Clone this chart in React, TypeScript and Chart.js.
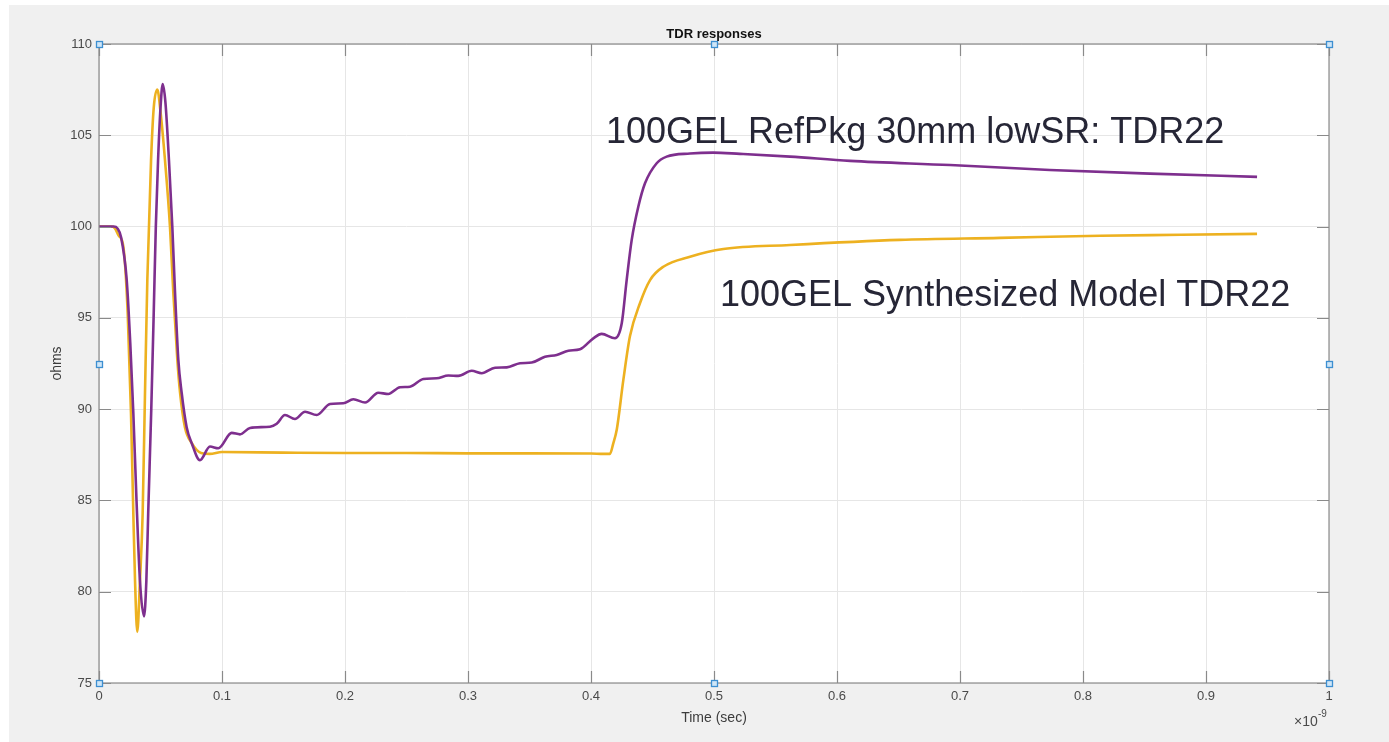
import React, { useEffect, useRef } from "react";
import { Chart, registerables } from "chart.js";

Chart.register(...registerables);

// time in units of 1e-9 s, impedance in ohms
const synthTime = [0, 0.010, 0.013, 0.016, 0.0198, 0.0233, 0.026, 0.0279, 0.0293, 0.0311, 0.0333, 0.0355, 0.0374, 0.0393, 0.0423, 0.0445, 0.0474, 0.0500, 0.0537, 0.0577, 0.0604, 0.0637, 0.0659, 0.0699, 0.0753, 0.083, 0.09, 0.1, 0.15, 0.2, 0.25, 0.3, 0.35, 0.40, 0.410, 0.4154, 0.418, 0.421, 0.4263, 0.4317, 0.4398, 0.448, 0.4588, 0.4805, 0.5076, 0.5618, 0.651, 0.7325, 0.814, 0.88, 0.9415];
const synthOhms = [100, 100, 99.9, 99.5, 98.9, 95.3, 89.8, 84.3, 80.6, 77.8, 80.6, 84.3, 90.9, 97.1, 103.6, 106.5, 107.5, 106.3, 103.6, 100, 96.4, 92.7, 90.9, 89.0, 88.15, 87.6, 87.55, 87.65, 87.62, 87.6, 87.6, 87.58, 87.58, 87.57, 87.55, 87.55, 88.1, 88.9, 91.6, 94.0, 95.8, 97.07, 97.8, 98.35, 98.77, 98.99, 99.27, 99.38, 99.5, 99.55, 99.6];

const refTime = [0, 0.012, 0.015, 0.018, 0.0225, 0.0255, 0.0279, 0.0305, 0.0333, 0.0366, 0.0385, 0.040, 0.0425, 0.0445, 0.0462, 0.048, 0.050, 0.0518, 0.054, 0.0569, 0.0596, 0.0618, 0.0645, 0.0672, 0.0713, 0.0753, 0.0821, 0.0902, 0.097, 0.1079, 0.1146, 0.1228, 0.139, 0.1445, 0.1512, 0.1593, 0.1675, 0.177, 0.1878, 0.1986, 0.2068, 0.2163, 0.2271, 0.2352, 0.2447, 0.2528, 0.2637, 0.2745, 0.284, 0.2921, 0.303, 0.3111, 0.322, 0.3315, 0.3423, 0.3518, 0.3626, 0.3721, 0.3816, 0.3911, 0.4019, 0.4087, 0.4195, 0.425, 0.429, 0.4331, 0.4385, 0.4439, 0.4534, 0.4615, 0.4805, 0.4994, 0.5211, 0.5618, 0.6106, 0.6919, 0.773, 0.8545, 0.9415];
const refOhms = [100, 100, 99.9, 99.4, 97.1, 93.5, 89.8, 85.0, 80.6, 78.65, 80.6, 84.3, 90.0, 95.3, 100, 103.6, 106.5, 107.8, 106.8, 103.6, 100, 96.4, 92.7, 90.9, 89.0, 88.15, 87.2, 87.95, 87.86, 88.7, 88.62, 88.97, 89.04, 89.2, 89.68, 89.46, 89.86, 89.68, 90.28, 90.32, 90.54, 90.36, 90.9, 90.83, 91.2, 91.23, 91.65, 91.69, 91.84, 91.82, 92.1, 91.97, 92.27, 92.29, 92.51, 92.55, 92.87, 92.97, 93.2, 93.28, 93.88, 94.12, 93.88, 94.7, 97.07, 99.27, 101.1, 102.37, 103.47, 103.83, 104.0, 104.05, 103.98, 103.83, 103.6, 103.37, 103.1, 102.9, 102.72];

const xTicksMin = 0;
const xTicksMax = 1;
const xStep = 0.1;
const yMin = 75;
const yMax = 110;
const yStep = 5;

const titleText = "TDR responses";
const xLabel = "Time (sec)";
const yLabel = "ohms";
const refLabel = "100GEL RefPkg 30mm lowSR: TDR22";
const synthLabel = "100GEL Synthesized Model TDR22";

const W = 1389;
const H = 742;

const decor = {
  id: "decor",
  beforeDraw(chart: any) {
    const ctx = chart.ctx;
    const a = chart.chartArea;
    ctx.save();
    ctx.fillStyle = "#ffffff";
    ctx.fillRect(0, 0, W, H);
    ctx.fillStyle = "#f0f0f0";
    ctx.fillRect(9, 5, W - 9, H - 5);
    ctx.fillStyle = "#ffffff";
    ctx.fillRect(a.left, a.top, a.right - a.left, a.bottom - a.top);
    ctx.restore();
  },
  afterDatasetsDraw(chart: any) {
    const ctx = chart.ctx;
    const a = chart.chartArea;
    const xs = chart.scales.x;
    const ys = chart.scales.y;
    ctx.save();
    ctx.strokeStyle = "#8a8a8a";
    ctx.lineWidth = 1.2;
    ctx.strokeRect(a.left, a.top, a.right - a.left, a.bottom - a.top);
    const tl = 12;
    ctx.beginPath();
    xs.ticks.forEach((t: any) => {
      const px = Math.round(xs.getPixelForValue(t.value)) + 0.5;
      ctx.moveTo(px, a.bottom);
      ctx.lineTo(px, a.bottom - tl);
      ctx.moveTo(px, a.top);
      ctx.lineTo(px, a.top + tl);
    });
    ys.ticks.forEach((t: any) => {
      const py = Math.round(ys.getPixelForValue(t.value)) + 0.5;
      ctx.moveTo(a.left, py);
      ctx.lineTo(a.left + tl, py);
      ctx.moveTo(a.right, py);
      ctx.lineTo(a.right - tl, py);
    });
    ctx.stroke();

    // selection handles
    const cx = (a.left + a.right) / 2;
    const cy = (a.top + a.bottom) / 2;
    const pts = [
      [a.left, a.top], [cx, a.top], [a.right, a.top],
      [a.left, cy], [a.right, cy],
      [a.left, a.bottom], [cx, a.bottom], [a.right, a.bottom],
    ];
    pts.forEach(([px, py]) => {
      ctx.fillStyle = "#cfe6f7";
      ctx.strokeStyle = "#3d8fd1";
      ctx.lineWidth = 1.3;
      ctx.fillRect(Math.round(px) - 3, Math.round(py) - 3, 7, 7);
      ctx.strokeRect(Math.round(px) - 3 + 0.5, Math.round(py) - 3 + 0.5, 6, 6);
    });
    ctx.restore();
  },
  afterDraw(chart: any) {
    const ctx = chart.ctx;
    const a = chart.chartArea;
    const cx = (a.left + a.right) / 2;
    const cy = (a.top + a.bottom) / 2;
    ctx.save();
    ctx.fillStyle = "#111111";
    ctx.font = "bold 13px 'Liberation Sans', Arial, sans-serif";
    ctx.textAlign = "center";
    ctx.textBaseline = "middle";
    ctx.fillText(titleText, cx, 34);

    ctx.fillStyle = "#3c3c3c";
    ctx.font = "14px 'Liberation Sans', Arial, sans-serif";
    ctx.fillText(xLabel, cx, 718);
    ctx.save();
    ctx.translate(57, cy);
    ctx.rotate(-Math.PI / 2);
    ctx.fillText(yLabel, 0, 0);
    ctx.restore();

    // exponent
    ctx.textAlign = "left";
    ctx.font = "14px 'Liberation Sans', Arial, sans-serif";
    ctx.fillStyle = "#4a4a4a";
    ctx.fillText("\u00d710", 1294, 722);
    ctx.font = "10px 'Liberation Sans', Arial, sans-serif";
    ctx.fillText("-9", 1318, 714);

    // annotations
    ctx.fillStyle = "#262636";
    ctx.font = "36px 'Liberation Sans', Arial, sans-serif";
    ctx.textBaseline = "alphabetic";
    ctx.fillText(refLabel, 606, 143);
    ctx.fillText(synthLabel, 720, 306);
    ctx.restore();
  },
};

export default function App() {
  const ref = useRef<HTMLCanvasElement | null>(null);
  useEffect(() => {
    if (!ref.current) return;
    const chart = new Chart(ref.current, {
      type: "line",
      data: {
        datasets: [
          {
            label: refLabel,
            data: refTime.map((t, i) => ({ x: t, y: refOhms[i] })),
            borderColor: "#7e2f8e",
            borderWidth: 2.6,
            pointRadius: 0,
            cubicInterpolationMode: "monotone",
            fill: false,
          },
          {
            label: synthLabel,
            data: synthTime.map((t, i) => ({ x: t, y: synthOhms[i] })),
            borderColor: "#edb120",
            borderWidth: 2.6,
            pointRadius: 0,
            cubicInterpolationMode: "monotone",
            fill: false,
          },
        ],
      },
      options: {
        responsive: false,
        animation: false,
        devicePixelRatio: 1,
        layout: { padding: { left: 0, top: 44, right: W - 1329, bottom: 0 } },
        plugins: {
          legend: { display: false },
          title: { display: false },
          tooltip: { enabled: false },
        },
        scales: {
          x: {
            type: "linear",
            min: xTicksMin,
            max: xTicksMax,
            ticks: {
              stepSize: xStep,
              color: "#4a4a4a",
              font: { family: "'Liberation Sans', Arial, sans-serif", size: 13 },
              padding: 6,
              maxRotation: 0,
              callback: (v: any) => String(Number(Number(v).toFixed(1))),
            },
            grid: { color: "#e6e6e6", lineWidth: 1, drawTicks: false },
            border: { display: false },
            afterFit: (s: any) => { s.height = H - 683; },
          },
          y: {
            min: yMin,
            max: yMax,
            ticks: {
              stepSize: yStep,
              color: "#4a4a4a",
              font: { family: "'Liberation Sans', Arial, sans-serif", size: 13 },
              padding: 7,
            },
            grid: { color: "#e6e6e6", lineWidth: 1, drawTicks: false },
            border: { display: false },
            afterFit: (s: any) => { s.width = 99; },
          },
        },
      },
      plugins: [decor],
    } as any);
    return () => chart.destroy();
  }, []);
  return (
    <div style={{ position: "absolute", left: 0, top: 0, width: W, height: H }}>
      <canvas ref={ref} width={W} height={H} style={{ display: "block", width: W, height: H }} />
    </div>
  );
}
